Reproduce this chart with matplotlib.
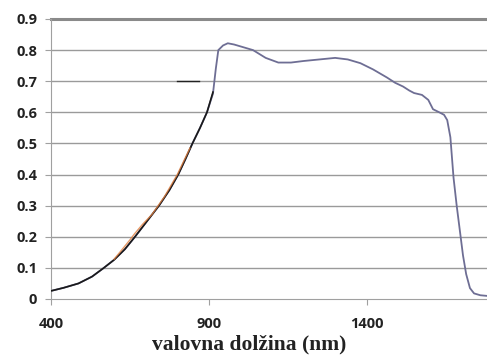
import matplotlib
matplotlib.use("Agg")
import matplotlib.pyplot as plt

# main measured curve (grey-blue)
wl_main = [400, 440, 487, 530, 566, 600, 634, 666, 704, 742, 775, 803, 826, 848, 872, 894, 913,
           922, 930, 945, 960, 980,
           1000, 1040, 1080, 1120, 1160, 1200, 1250, 1300, 1340, 1380, 1420, 1464, 1490, 1515,
           1535, 1550, 1575, 1595, 1610, 1630, 1645, 1655, 1665, 1675, 1685, 1695, 1705, 1715,
           1727, 1740, 1760, 1781]
val_main = [0.026, 0.036, 0.050, 0.072, 0.099, 0.126, 0.160, 0.200, 0.250, 0.300, 0.350, 0.400,
            0.450, 0.500, 0.550, 0.600, 0.660, 0.740, 0.800,
            0.815, 0.822, 0.818, 0.812, 0.800, 0.775, 0.760, 0.760, 0.765, 0.770, 0.775, 0.770,
            0.758, 0.738, 0.712, 0.695, 0.683, 0.670, 0.662, 0.656, 0.640, 0.610, 0.600, 0.592,
            0.575, 0.520, 0.390, 0.300, 0.220, 0.140, 0.080, 0.035, 0.018, 0.012, 0.010]
# black reference curve
wl_black = [400, 440, 487, 530, 566, 600, 634, 666, 704, 742, 775, 803, 826, 848, 872, 894, 913]
val_black = [0.026, 0.036, 0.050, 0.072, 0.099, 0.126, 0.160, 0.200, 0.250, 0.300, 0.350, 0.400,
             0.450, 0.500, 0.550, 0.600, 0.665]
# orange curve
wl_orange = [600, 630, 650, 665, 690, 720, 760, 800, 840]
val_orange = [0.128, 0.165, 0.190, 0.210, 0.240, 0.272, 0.330, 0.400, 0.485]
# short dash near 0.7
wl_dash = [800, 870]
val_dash = [0.70, 0.70]

x_ticks = [400, 900, 1400]
y_ticks = [0, 0.1, 0.2, 0.3, 0.4, 0.5, 0.6, 0.7, 0.8, 0.9]
y_labels = ["0", "0.1", "0.2", "0.3", "0.4", "0.5", "0.6", "0.7", "0.8", "0.9"]

fig = plt.figure(figsize=(4.87, 3.61), dpi=100)
ax = fig.add_axes([51/487, 62/361, 1 - 51/487, 280/361])
ax.set_xlim(400, 1781)
ax.set_ylim(0, 0.9)

for y in y_ticks[1:-1]:
    ax.axhline(y, color="#9a9a9a", lw=1.0, zorder=0)
ax.axhline(0.9, color="#8a8a8a", lw=2.2, zorder=0, clip_on=False)

ax.plot(wl_main, val_main, color="#6e6e94", lw=1.3, zorder=2)
ax.plot(wl_black, val_black, color="#1a1a1a", lw=1.2, zorder=3)
ax.plot(wl_orange, val_orange, color="#e08040", lw=1.0, alpha=0.8, zorder=4)
ax.plot(wl_dash, val_dash, color="#222222", lw=1.0, zorder=3)

for s in ["top", "right"]:
    ax.spines[s].set_visible(False)
ax.spines["left"].set_color("#a0a0a0")
ax.spines["bottom"].set_color("#a0a0a0")

ax.set_xticks(x_ticks)
ax.set_yticks(y_ticks)
ax.set_yticklabels(y_labels)
ax.tick_params(axis="both", colors="#a0a0a0", length=4, labelcolor="#222222")
for lab in ax.get_xticklabels() + ax.get_yticklabels():
    lab.set_fontfamily("Open Sans")
    lab.set_fontweight("bold")
    lab.set_fontsize(10.5)
ax.tick_params(axis="x", pad=9)
ax.tick_params(axis="y", pad=6)

fig.text(249 / 487, 1 - 344 / 361, "valovna dolžina (nm)", fontfamily="Liberation Serif",
         fontweight="bold", fontsize=15.5, color="#222222", ha="center", va="center")

fig.savefig("out.png", dpi=100)
